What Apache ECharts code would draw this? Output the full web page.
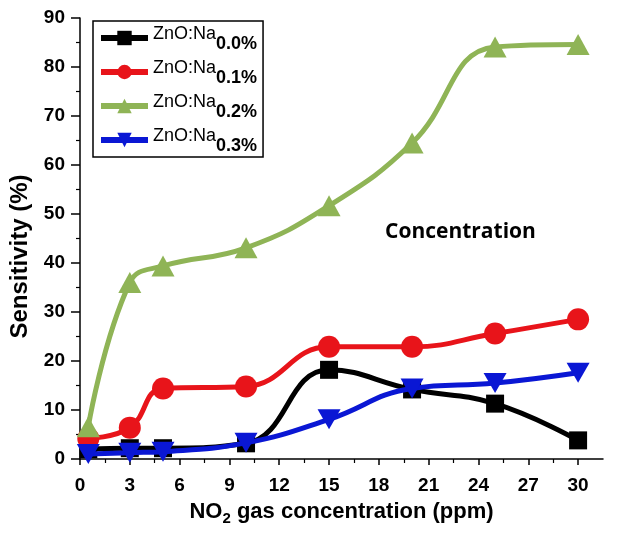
<!DOCTYPE html>
<html>
<head>
<meta charset="utf-8">
<script src="https://cdn.jsdelivr.net/npm/echarts@6/dist/echarts.min.js"></script>
<style>html,body{margin:0;padding:0;background:#fff;}#c{width:618px;height:540px;}</style>
</head>
<body>
<div id="c"></div>
<script>
var xValues = [0.5, 3, 5, 10, 15, 20, 25, 30];
var seriesNames = ['0.0%', '0.1%', '0.2%', '0.3%'];
var na00 = [2.0, 2.2, 2.2, 3.2, 18.2, 14.2, 11.3, 3.8];
var na01 = [4.2, 6.4, 14.4, 14.8, 22.9, 22.9, 25.6, 28.5];
var na02 = [6.6, 36.0, 39.4, 43.1, 51.7, 64.5, 84.1, 84.6];
var na03 = [1.0, 1.3, 1.5, 3.3, 8.1, 14.4, 15.5, 17.6];
var xTicks = [0, 3, 6, 9, 12, 15, 18, 21, 24, 27, 30];

function pairs(ys) { return xValues.map(function (x, i) { return [x, ys[i]]; }); }

var chart = echarts.init(document.getElementById('c'), null, { renderer: 'canvas' });
var font = 'Liberation Sans, Arial, sans-serif';
var colors = ['#000000', '#e8141a', '#8fb456', '#0a17d4'];
var symbols = ['rect', 'circle', 'triangle', 'path://M0,0 L10,0 L5,8.7 Z'];
var sizes = [18, 22, [23, 21], [23, 20]];
var datas = [na00, na01, na02, na03];

var series = seriesNames.map(function (n, i) {
  return {
    name: n,
    type: 'line',
    smooth: 0.45,
    data: pairs(datas[i]),
    symbol: symbols[i],
    symbolSize: sizes[i],
    showAllSymbol: true,
    lineStyle: { color: colors[i], width: 5 },
    itemStyle: { color: colors[i], opacity: 1 },
    emphasis: { disabled: true },
    z: 2 + i
  };
});

chart.setOption({
  animation: false,
  backgroundColor: '#fff',
  grid: { left: 79, right: 15, top: 18, bottom: 81, containLabel: false },
  legend: {
    left: 93, top: 21,
    orient: 'vertical',
    data: seriesNames,
    itemWidth: 47, itemHeight: 18, itemGap: 6,
    padding: [4, 6, 2, 5],
    borderColor: '#000', borderWidth: 1.5,
    lineStyle: { width: 6 },
    formatter: function (n) { return '{a|ZnO:Na}{b|' + n + '}'; },
    textStyle: {
      fontFamily: font, color: '#000',
      rich: {
        a: { fontSize: 18, fontFamily: font, color: '#000', padding: [0, 0, 8, 0] },
        b: { fontSize: 18, fontFamily: font, fontWeight: 'bold', color: '#000', padding: [12, 0, 0, 0] }
      }
    }
  },
  xAxis: {
    type: 'value', min: 0, max: 31.5, interval: 3,
    name: '{a|NO}{s|2}{a| gas concentration (ppm)}',
    nameLocation: 'middle', nameGap: 38,
    nameTextStyle: {
      rich: {
        a: { fontSize: 22, fontWeight: 'bold', fontFamily: font, color: '#000' },
        s: { fontSize: 15, fontWeight: 'bold', fontFamily: font, color: '#000', padding: [14, 0, 0, 0] }
      }
    },
    axisLine: { show: true, lineStyle: { color: '#000', width: 1.5 } },
    axisTick: { show: true, length: 6, lineStyle: { color: '#000', width: 1.5 }, customValues: xTicks },
    minorTick: { show: true, splitNumber: 2, length: 4, lineStyle: { color: '#000', width: 1.2 } },
    axisLabel: {
      customValues: xTicks,
      margin: 17, fontSize: 19, fontWeight: 'bold', color: '#000', fontFamily: font
    },
    splitLine: { show: false }
  },
  yAxis: {
    type: 'value', min: 0, max: 90, interval: 10,
    name: 'Sensitivity (%)',
    nameLocation: 'middle', nameGap: 48,
    nameTextStyle: { fontSize: 24, fontWeight: 'bold', color: '#000', fontFamily: font, padding: [0, 36, 0, 0] },
    axisLine: { show: true, lineStyle: { color: '#000', width: 1.5 } },
    axisTick: { show: true, length: 9, lineStyle: { color: '#000', width: 1.5 } },
    minorTick: { show: true, splitNumber: 2, length: 4, lineStyle: { color: '#000', width: 1.2 } },
    axisLabel: { margin: 15, fontSize: 19, fontWeight: 'bold', color: '#000', fontFamily: font },
    splitLine: { show: false }
  },
  graphic: [{
    type: 'text', left: 385, top: 222,
    style: { text: 'Concentration', fontSize: 21, fontWeight: 'bold', fontFamily: 'Open Sans, sans-serif', fill: '#000' }
  }],
  series: series
});
</script>
</body>
</html>
